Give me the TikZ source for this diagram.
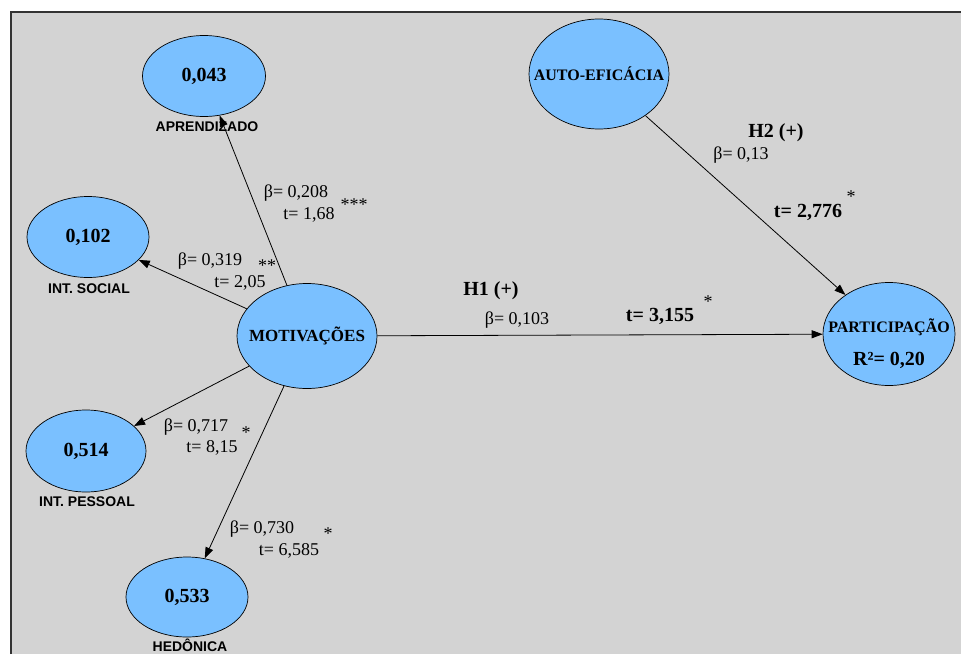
\documentclass[tikz,border=0pt]{standalone}
\usepackage{fontspec}
\setmainfont{Liberation Serif}
\setsansfont{Liberation Sans}
\usetikzlibrary{shapes.geometric,arrows.meta}
\definecolor{panelgray}{RGB}{211,211,211}
\definecolor{lvblue}{RGB}{122,192,255}
\begin{document}
\begin{tikzpicture}[x=1pt, y=-1pt,
    lv/.style={ellipse, draw, fill=lvblue, line width=0.7pt, inner sep=0pt},
    val/.style={font=\fontsize{20}{22}\selectfont\bfseries},
    lvname/.style={font=\fontsize{16}{18}\selectfont\bfseries, inner sep=0pt},
    lvcap/.style={font=\sffamily\fontsize{14}{16}\selectfont\bfseries, inner sep=1pt},
    coef/.style={font=\fontsize{18}{20}\selectfont, inner sep=0pt},
    hyp/.style={font=\fontsize{20}{22}\selectfont\bfseries, inner sep=0pt},
    sig/.style={font=\fontsize{18}{18}\selectfont, inner sep=0pt},
    regpath/.style={line width=0.8pt, -{Triangle[length=11pt,width=8pt]}}]
    \useasboundingbox (0,0) rectangle (961,654);
    \fill[panelgray] (11,12) rectangle (961,654);
    \draw[line width=2pt, black!80] (11,654) -- (11,12) -- (961,12);
    \node[lv, minimum width=123pt, minimum height=81pt, val] (apr) at (204,76) {0,043};
    \node[lv, minimum width=122pt, minimum height=81pt, val] (social) at (88,237) {0,102};
    \node[lv, minimum width=120pt, minimum height=82pt, val] (pessoal) at (86,451) {0,514};
    \node[lv, minimum width=122pt, minimum height=80pt, val] (hedon) at (187,597) {0,533};
    \node[lv, minimum width=140pt, minimum height=105pt] (motiv) at (307,336) {};
    \node[lvname, font=\fontsize{17}{19}\selectfont\bfseries] (motivname) at (motiv.center) {MOTIVAÇÕES};
    \node[lv, minimum width=140pt, minimum height=110pt] (autoef) at (599,74) {};
    \node[lvname] (autoefname) at (autoef.center) {AUTO-EFICÁCIA};
    \node[lv, minimum width=132pt, minimum height=103pt] (partic) at (889,334) {};
    \node[lvname] (partname) at (889,327) {PARTICIPAÇÃO};
    \node[val, inner sep=0pt] (partr2) at (889,360) {R²= 0,20};
    \node[lvcap] (aprcap) at (207,127) {APRENDIZADO};
    \node[lvcap] (socialcap) at (89,289) {INT. SOCIAL};
    \node[lvcap] (pessoalcap) at (87,502) {INT. PESSOAL};
    \node[lvcap] (hedoncap) at (190,645) {HEDÔNICA};
    \draw[regpath] (motiv) -- (apr);
    \draw[regpath] (motiv) -- (social);
    \draw[regpath] (motiv) -- (pessoal);
    \draw[regpath] (motiv) -- (hedon);
    \draw[regpath] (motiv) -- (partic);
    \draw[regpath] (autoef) -- (partic);
    \node[coef] (b1) at (296,193) {β= 0,208};
    \node[coef] (t1) at (309,215) {t= 1,68};
    \node[sig] (s1) at (354,205) {***};
    \node[coef] (b2) at (210,261) {β= 0,319};
    \node[coef] (t2) at (240,283) {t= 2,05};
    \node[sig] (s2) at (267,266) {**};
    \node[coef] (b3) at (196,427) {β= 0,717};
    \node[coef] (t3) at (212,448) {t= 8,15};
    \node[sig] (s3) at (246,433) {*};
    \node[coef] (b4) at (262,529) {β= 0,730};
    \node[coef] (t4) at (289,551) {t= 6,585};
    \node[sig] (s4) at (328,534) {*};
    \node[hyp] (h1) at (491,291) {H1 (+)};
    \node[coef] (b5) at (517,320) {β= 0,103};
    \node[hyp] (t5) at (660,316) {t= 3,155};
    \node[sig] (s5) at (708,302) {*};
    \node[hyp] (h2) at (776,133) {H2 (+)};
    \node[coef] (b6) at (741,155) {β= 0,13};
    \node[hyp] (t6) at (808,212) {t= 2,776};
    \node[sig] (s6) at (851,197) {*};
\end{tikzpicture}
\end{document}
